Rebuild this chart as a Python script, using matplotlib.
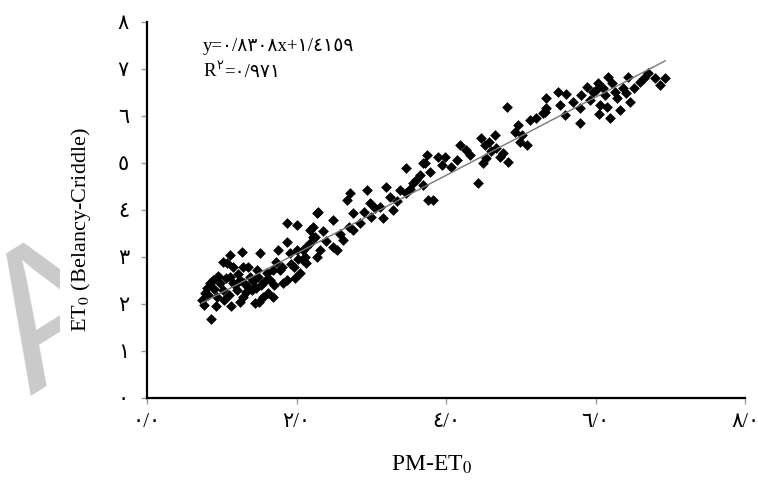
import matplotlib.pyplot as plt
from matplotlib.patches import Rectangle

plt.rcParams['font.family'] = ['Liberation Serif', 'DejaVu Sans']
plt.rcParams['mathtext.fontset'] = 'stix'

# PM-ET0 (x) against Belancy-Criddle ET0 (y)
pm_et0 = [
    0.86, 0.73, 0.80, 0.88, 0.93, 1.02, 1.03, 1.07, 1.11, 1.02, 1.15, 1.27, 1.28, 1.15, 1.20, 1.24,
    1.28, 1.35, 1.38, 1.40, 1.44, 1.51, 1.49, 1.53, 1.55, 1.62, 1.64, 1.68, 1.75, 1.78, 1.82, 1.87,
    1.87, 1.87, 1.91, 1.96, 2.00, 2.00, 2.05, 2.09, 2.13, 2.18, 2.22, 2.27, 0.84, 0.78, 0.98, 1.11,
    1.35, 1.47, 1.60, 1.68, 0.76, 0.82, 0.90, 0.95, 1.05, 1.10, 1.18, 1.22, 1.30, 1.33, 1.42, 1.46,
    1.58, 1.70, 1.72, 1.80, 1.92, 1.98, 2.02, 1.12, 1.25, 1.50, 0.92,
    2.13, 2.09, 2.22, 2.29, 2.25, 2.18, 2.31, 2.49, 2.49, 2.54, 2.62, 2.67, 2.71, 2.76, 2.76, 2.85,
    2.94, 2.98, 3.00, 3.11, 3.16, 3.20, 3.25, 3.29, 3.38, 3.47, 3.47, 3.56, 3.60, 3.69, 3.76, 2.11,
    2.27, 2.40, 2.58, 2.70, 2.90, 3.05, 3.35, 3.52, 2.35,
    3.83, 3.69, 3.74, 3.78, 3.89, 3.98, 4.07, 4.14, 4.18, 4.27, 4.32, 4.43, 4.47, 4.49, 4.54, 4.52,
    4.65, 4.67, 4.72, 4.83, 4.81, 4.92, 4.96, 4.99, 5.08, 5.12, 5.30, 5.34, 3.65, 3.72, 3.95, 4.60,
    4.58, 4.76, 5.02, 5.20,
    5.32, 5.34, 5.50, 5.52, 5.59, 5.61, 5.79, 5.79, 5.81, 5.88, 5.96, 6.03, 6.06, 6.12, 6.16, 6.19,
    6.26, 6.32, 6.36, 6.43, 6.46, 6.59, 6.70, 6.79, 6.86, 6.93, 6.28, 5.92, 6.00, 6.10, 6.22, 6.40,
    6.52, 6.65, 5.70, 6.15, 6.05,
]
bc_et0 = [
    1.69, 2.09, 2.34, 2.51, 2.16, 2.30, 2.09, 2.87, 3.04, 2.90, 2.79, 3.11, 2.79, 2.45, 2.30, 2.51,
    2.15, 2.36, 2.58, 2.30, 2.02, 3.08, 2.58, 2.40, 2.15, 2.23, 2.51, 2.15, 3.15, 2.72, 2.45, 2.51,
    3.33, 3.72, 3.08, 2.79, 3.68, 3.15, 2.66, 2.94, 3.22, 3.57, 3.43, 3.93, 2.45, 2.23, 2.45, 2.58,
    2.79, 2.72, 2.66, 2.72, 1.98, 2.20, 2.32, 2.60, 2.55, 2.20, 2.40, 2.65, 2.45, 2.25, 2.50, 2.35,
    2.50, 2.40, 2.90, 2.80, 2.85, 2.55, 2.95, 1.95, 2.05, 2.05, 1.95,
    2.87, 3.15, 3.64, 3.96, 3.43, 3.30, 3.15, 3.79, 3.22, 3.15, 3.36, 4.21, 4.36, 3.93, 3.57, 3.72,
    4.43, 4.15, 3.86, 4.07, 3.83, 4.50, 4.28, 4.00, 4.43, 4.89, 4.36, 4.57, 4.64, 5.00, 4.21, 3.00,
    3.00, 3.35, 3.50, 3.65, 3.95, 4.05, 4.20, 4.45, 3.55,
    4.21, 4.53, 5.17, 4.81, 5.13, 5.13, 4.92, 5.06, 5.38, 5.28, 5.17, 4.57, 5.53, 5.00, 5.11, 5.38,
    5.60, 5.32, 5.13, 5.03, 6.20, 5.67, 5.81, 5.45, 5.38, 5.91, 6.06, 6.17, 4.74, 5.00, 4.95, 5.25,
    5.45, 5.22, 5.60, 5.95,
    6.09, 6.38, 6.52, 6.23, 6.02, 6.47, 6.17, 5.85, 6.45, 6.62, 6.52, 6.70, 6.23, 6.45, 6.84, 5.96,
    6.52, 6.13, 6.60, 6.84, 6.30, 6.73, 6.91, 6.81, 6.66, 6.81, 6.38, 6.35, 6.55, 6.60, 6.70, 6.50,
    6.60, 6.80, 6.30, 6.20, 6.05,
]

slope = 0.8308
intercept = 1.4159
x_ticks = [0, 2, 4, 6, 8]
x_labels = ['٠/٠', '٢/٠', '٤/٠', '٦/٠', '٨/٠']
y_ticks = [0, 1, 2, 3, 4, 5, 6, 7, 8]
y_labels = ['٠', '١', '٢', '٣', '٤', '٥', '٦', '٧', '٨']

fig = plt.figure(figsize=(7.58, 4.88), dpi=100)

# faint watermark letter on the left, only its left part shows
wm = fig.text(0.1135, 0.258, 'A', family='Liberation Sans', fontsize=140, color='#cacaca',
              rotation=32, ha='center', va='baseline', rotation_mode='anchor', zorder=0)
wm.set_clip_path(Rectangle((0, 0), 60 / 758, 1, transform=fig.transFigure))

ax = fig.add_axes([0.194, 0.184, 0.789, 0.771])
ax.patch.set_alpha(0)

ax.scatter(pm_et0, bc_et0, marker='D', s=30, color='black', linewidths=0, zorder=3)

x0, x1 = min(pm_et0), max(pm_et0)
ax.plot([x0, x1], [slope * x0 + intercept, slope * x1 + intercept], color='#777777', lw=1.0, zorder=4)

ax.set_xlim(0, 8)
ax.set_ylim(0, 8)
ax.set_xticks(x_ticks)
ax.set_xticklabels(x_labels)
ax.set_yticks(y_ticks)
ax.set_yticklabels(y_labels)
ax.tick_params(direction='out', length=4, width=1, color='#999999', labelsize=15)
ax.tick_params(axis='y', pad=9)
ax.tick_params(axis='x', pad=7)

for side in ['top', 'right']:
    ax.spines[side].set_visible(False)
for side in ['left', 'bottom']:
    ax.spines[side].set_linewidth(1.6)
    ax.spines[side].set_color('black')

ax.set_xlabel('PM-ET$_0$', fontsize=17)
ax.set_ylabel('ET$_0$ (Belancy-Criddle)', fontsize=16)
ax.xaxis.set_label_coords(0.475, -0.148)
ax.yaxis.set_label_coords(-0.09, 0.447)

ax.text(0.75, 7.47, 'y=٠/٨٣٠٨x+١/٤١٥٩', fontsize=13.5, va='center')
ax.text(0.75, 6.94, 'R', fontsize=13.5, va='center')
ax.text(0.935, 7.07, '٢', fontsize=9, va='center')
ax.text(1.03, 6.92, '=٠/٩٧١', fontsize=13.5, va='center')

fig.savefig('out.png', dpi=100)
